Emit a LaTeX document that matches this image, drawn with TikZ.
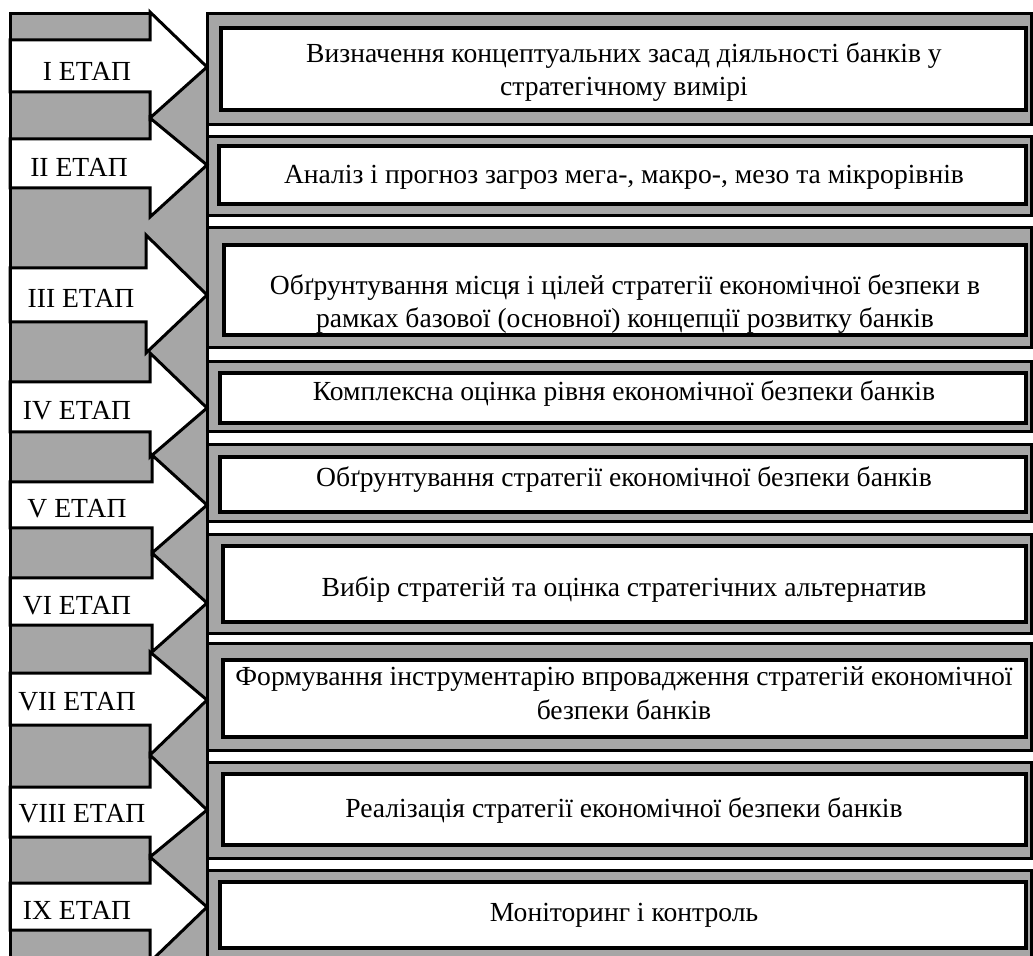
\documentclass[tikz,border=0pt]{standalone}
\usepackage{fontspec}
\setmainfont{Liberation Serif}
\usepackage{xcolor}
\usepackage{tikz}
\usetikzlibrary{positioning,calc}

\definecolor{panelgray}{RGB}{166,166,166}
\tikzset{
  panel/.style={draw, line width=1.5pt, fill=panelgray},
  inbox/.style={draw, line width=2pt, fill=white},
  stagearrow/.style={draw, line width=1.5pt, fill=white, line join=miter},
  stagetext/.style={font=\fontsize{13.8}{16}\selectfont, inner sep=0pt},
  boxtext/.style={align=center, font=\fontsize{13.8}{16.8}\selectfont, inner sep=0pt}
}

\begin{document}
\begin{tikzpicture}[x=0.5pt,y=-0.5pt]
    \useasboundingbox (0,0) rectangle (1033,956);
    \clip (0,0) rectangle (1033,956);

    % Grey strip behind the arrows
    \fill[panelgray] (10,14) -- (150,14) -- (207,67) -- (207,965) -- (10,965) -- cycle;

    % Stage panels
    \draw[panel] (207,14) rectangle (1031,125);
    \draw[inbox] (221,28) rectangle (1026,110);
    \draw[panel] (207,137) rectangle (1031,216);
    \draw[inbox] (219,146) rectangle (1026,204);
    \draw[panel] (207,228) rectangle (1031,348);
    \draw[inbox] (224,245) rectangle (1026,335);
    \draw[panel] (207,362) rectangle (1031,432);
    \draw[inbox] (220,373) rectangle (1026,423);
    \draw[panel] (207,445) rectangle (1031,522);
    \draw[inbox] (220,457) rectangle (1026,512);
    \draw[panel] (207,535) rectangle (1031,633);
    \draw[inbox] (223,546) rectangle (1026,622);
    \draw[panel] (207,643) rectangle (1031,750);
    \draw[inbox] (223,660) rectangle (1026,737);
    \draw[panel] (207,762) rectangle (1031,858);
    \draw[inbox] (223,774) rectangle (1026,845);
    \draw[panel] (207,870) rectangle (1031,965);
    \draw[inbox] (220,882) rectangle (1026,948);

    % Panel texts
    \node[boxtext] (b1) at (624,72) {Визначення концептуальних засад діяльності банків у\\стратегічному вимірі};
    \node[boxtext] (b2) at (624,177) {Аналіз і прогноз загроз мега-, макро-, мезо та мікрорівнів};
    \node[boxtext] (b3) at (625,304) {Обґрунтування місця і цілей стратегії економічної безпеки в\\рамках базової (основної) концепції розвитку банків};
    \node[boxtext] (b4) at (624,394) {Комплексна оцінка рівня економічної безпеки банків};
    \node[boxtext] (b5) at (624,480) {Обґрунтування стратегії економічної безпеки банків};
    \node[boxtext] (b6) at (624,590) {Вибір стратегій та оцінка стратегічних альтернатив};
    \node[boxtext] (b7) at (624,693) {Формування інструментарію впровадження стратегій економічної\\безпеки банків};
    \node[boxtext] (b8) at (624,811) {Реалізація стратегії економічної безпеки банків};
    \node[boxtext] (b9) at (624,915) {Моніторинг і контроль};

    % Stage arrows
    \draw[stagearrow] (10,40) -- (150,40) -- (150,12) -- (207,67) -- (150,118) -- (150,92) -- (10,92) -- cycle;
    \draw[stagearrow] (10,139) -- (150,139) -- (150,118) -- (207,165) -- (150,217) -- (150,188) -- (10,188) -- cycle;
    \draw[stagearrow] (10,268) -- (146,268) -- (146,235) -- (207,295) -- (146,353) -- (146,322) -- (10,322) -- cycle;
    \draw[stagearrow] (10,382) -- (150,382) -- (150,353) -- (207,408) -- (150,457) -- (150,432) -- (10,432) -- cycle;
    \draw[stagearrow] (10,482) -- (152,482) -- (152,455) -- (207,505) -- (152,553) -- (152,528) -- (10,528) -- cycle;
    \draw[stagearrow] (10,578) -- (152,578) -- (152,553) -- (207,603) -- (152,652) -- (152,625) -- (10,625) -- cycle;
    \draw[stagearrow] (10,673) -- (150,673) -- (150,652) -- (207,700) -- (150,755) -- (150,725) -- (10,725) -- cycle;
    \draw[stagearrow] (10,787) -- (150,787) -- (150,755) -- (207,810) -- (150,857) -- (150,837) -- (10,837) -- cycle;
    \draw[stagearrow] (10,883) -- (150,883) -- (150,857) -- (207,907) -- (150,962) -- (150,930) -- (10,930) -- cycle;

    % Stage labels
    \node[stagetext] (st1) at (87,71) {I ЕТАП};
    \node[stagetext] (st2) at (79,167) {II ЕТАП};
    \node[stagetext] (st3) at (81,298) {III ЕТАП};
    \node[stagetext] (st4) at (77,411) {IV ЕТАП};
    \node[stagetext] (st5) at (77,509) {V ЕТАП};
    \node[stagetext] (st6) at (77,606) {VI ЕТАП};
    \node[stagetext] (st7) at (77,702) {VII ЕТАП};
    \node[stagetext] (st8) at (82,814) {VIII ЕТАП};
    \node[stagetext] (st9) at (77,910) {IX ЕТАП};

    % Strip border
    \draw[line width=1.5pt] (150,14) -- (10,14) -- (10,965);
    \draw[line width=1.5pt] (207,14) -- (207,965);
\end{tikzpicture}
\end{document}
